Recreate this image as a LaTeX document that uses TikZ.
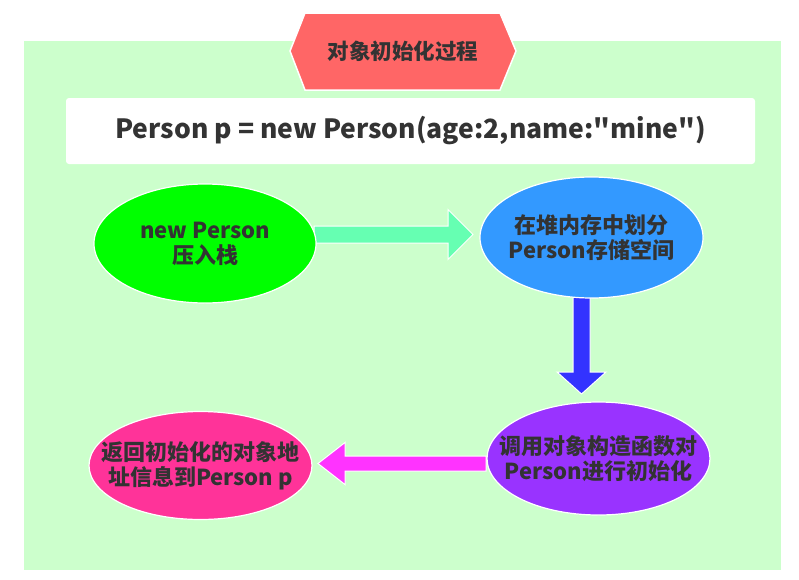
\documentclass[tikz,border=0pt]{standalone}
\usepackage{fontspec}
\setmainfont{Noto Sans CJK SC}
\usetikzlibrary{shapes.geometric,calc}
\definecolor{bgc}{HTML}{CCFFCC}
\definecolor{titlered}{HTML}{FF6666}
\definecolor{txt}{HTML}{333333}
\definecolor{cgreen}{HTML}{00FF00}
\definecolor{cblue}{HTML}{3399FF}
\definecolor{cpurple}{HTML}{9933FF}
\definecolor{cpink}{HTML}{FF3399}
\definecolor{amint}{HTML}{66FFB2}
\definecolor{ablue}{HTML}{3333FF}
\definecolor{amag}{HTML}{FF33FF}
\tikzset{
  oval/.style={ellipse, draw=white, line width=1.2pt, inner sep=0pt},
  ovaltext/.style={align=center, inner sep=0pt, text=txt, font=\fontsize{22}{25}\selectfont\bfseries},
  blockarrow/.style={draw=white, line width=1pt},
}
\begin{document}
\begin{tikzpicture}[x=1pt,y=-1pt]
\useasboundingbox (0,0) rectangle (799,579);
\fill[bgc] (24,41) rectangle (781,570);
% title
\draw[white, line width=1.5pt, fill=titlered] (290,51)--(305,13)--(500,13)--(516,51)--(500,90)--(305,90)--cycle;
\node[text=txt, font=\fontsize{21.5}{25}\selectfont\bfseries] (title) at (403,51) {对象初始化过程};
% code box
\node[fill=white, rounded corners=3pt, minimum width=689pt, minimum height=66pt, inner sep=0pt,
  text=txt, font=\fontsize{26.5}{30}\selectfont\bfseries] (code) at (410.5,131) {Person p = new Person(age:2,name:\textquotedbl mine\textquotedbl)};
% arrows
\coordinate (a1s) at (314,234.5);
\coordinate (a1e) at (473,234.5);
\fill[amint, blockarrow] ($(a1s)+(0,-8.5)$) -- ($(a1e)+(-25,-8.5)$) -- ($(a1e)+(-25,-25)$) -- (a1e)
  -- ($(a1e)+(-25,25)$) -- ($(a1e)+(-25,8.5)$) -- ($(a1s)+(0,8.5)$) -- cycle;
\coordinate (a2s) at (581.5,296);
\coordinate (a2e) at (581.5,394);
\fill[ablue, blockarrow] ($(a2s)+(-8.5,0)$) -- ($(a2e)+(-8.5,-22)$) -- ($(a2e)+(-24.5,-22)$) -- (a2e)
  -- ($(a2e)+(24.5,-22)$) -- ($(a2e)+(8.5,-22)$) -- ($(a2s)+(8.5,0)$) -- cycle;
\coordinate (a3s) at (486,463.5);
\coordinate (a3e) at (318,463.5);
\fill[amag, blockarrow] ($(a3s)+(0,-7.5)$) -- ($(a3e)+(27,-7.5)$) -- ($(a3e)+(27,-21)$) -- (a3e)
  -- ($(a3e)+(27,21)$) -- ($(a3e)+(27,7.5)$) -- ($(a3s)+(0,7.5)$) -- cycle;
% ellipses
\node[oval, fill=cgreen, minimum width=222pt, minimum height=119pt] (push) at (205,243.5) {};
\node[ovaltext] (pusht) at (push.center) {new Person\\压入栈};
\node[oval, fill=cblue, minimum width=223pt, minimum height=121pt] (heap) at (591.5,237.5) {};
\node[ovaltext] (heapt) at (heap.center) {在堆内存中划分\\Person存储空间};
\node[oval, fill=cpurple, minimum width=223pt, minimum height=113pt] (ctor) at (598.5,458.5) {};
\node[ovaltext] (ctort) at (ctor.center) {调用对象构造函数对\\Person进行初始化};
\node[oval, fill=cpink, minimum width=223pt, minimum height=108pt] (ret) at (200.5,465.5) {};
\node[ovaltext] (rett) at (ret.center) {返回初始化的对象地\\址信息到Person p};
\end{tikzpicture}
\end{document}
